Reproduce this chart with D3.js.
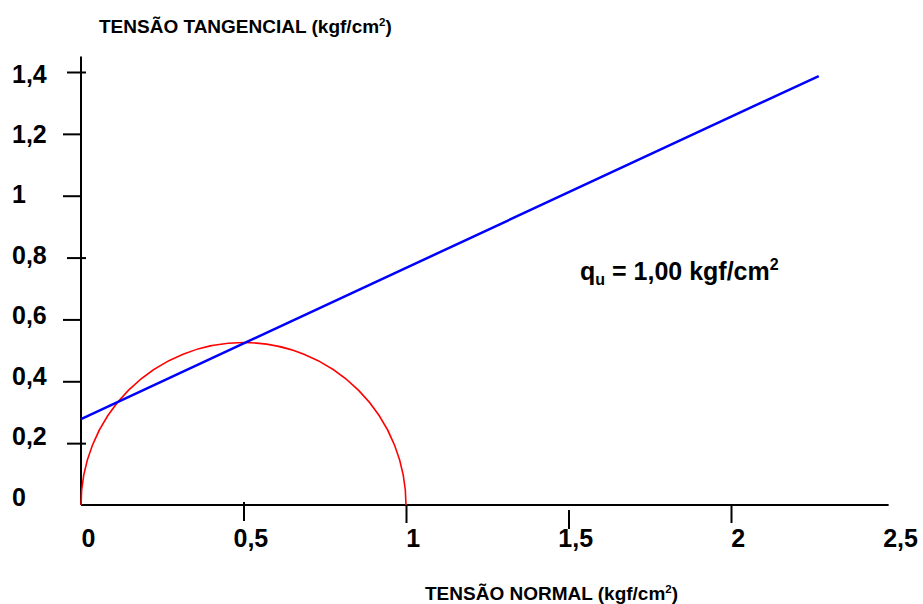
<!DOCTYPE html>
<html>
<head>
<meta charset="utf-8">
<script src="https://cdn.jsdelivr.net/npm/d3@7"></script>
<style>
  body { margin: 0; background: #fff; }
  svg text { font-family: "Liberation Sans", Arial, sans-serif; font-weight: bold; fill: #000; }
</style>
</head>
<body>
<svg id="chart" width="923" height="604"></svg>
<script>
// values
const xTicks = [0, 0.5, 1, 1.5, 2, 2.5];
const yTicks = [0, 0.2, 0.4, 0.6, 0.8, 1, 1.2, 1.4];
const qu = 1.00;                       // unconfined strength -> Mohr circle diameter
const envelopeX = [0, 2.27];           // failure envelope (blue)
const envelopeY = [0.278, 1.387];

const svg = d3.select("#chart");

const ptBR = d3.formatLocale({decimal: ",", thousands: ".", grouping: [3], currency: ["R$", ""]});
const fmt = ptBR.format("~g");

// scales for marks and tick marks
const x = d3.scaleLinear().domain([0, 2.5]).range([81, 893.5]);
const y = d3.scaleLinear().domain([0, 1.4]).range([505, 72]);
// the tick labels sit a bit off the tick marks in the original
const xLab = d3.scaleLinear().domain([0, 2.5]).range([88, 900]);
const yLab = d3.scaleLinear().domain([0, 1.4]).range([505, 82]);

// axis lines
svg.append("line")
    .attr("x1", x(0)).attr("x2", x(0))
    .attr("y1", y(0)).attr("y2", y(1.45))
    .attr("stroke", "#000").attr("stroke-width", 2);
svg.append("line")
    .attr("x1", x(0)).attr("x2", x(2.485))
    .attr("y1", y(0)).attr("y2", y(0))
    .attr("stroke", "#000").attr("stroke-width", 2);

// y tick marks
const gyt = svg.append("g")
    .attr("transform", `translate(${x(0)},0)`)
    .call(d3.axisLeft(y).tickValues(yTicks.slice(1)).tickSize(18).tickFormat(""));
gyt.select(".domain").remove();
gyt.selectAll(".tick line").attr("stroke-width", 2)
    .filter(d => d === 1.4 || d === 0.8 || d === 0.2)
    .attr("x1", 5).attr("x2", -14);

// y labels
const gyl = svg.append("g")
    .call(d3.axisLeft(yLab).tickValues(yTicks).tickSize(0).tickFormat(fmt));
gyl.select(".domain").remove();
gyl.selectAll(".tick text")
    .attr("x", 12).attr("dy", 0)
    .attr("text-anchor", "start")
    .style("font-size", "25px");

// x tick marks
const gxt = svg.append("g")
    .attr("transform", `translate(0,${y(0)})`)
    .call(d3.axisBottom(x).tickValues(xTicks.slice(1, 5)).tickSize(18).tickFormat(""));
gxt.select(".domain").remove();
gxt.selectAll(".tick line").attr("stroke-width", 2);
gxt.selectAll(".tick line").filter(d => d === 0.5).attr("y1", -3).attr("y2", 16);
gxt.selectAll(".tick line").filter(d => d === 1.5).attr("y1", 5).attr("y2", 24);

// x labels
const gxl = svg.append("g")
    .call(d3.axisBottom(xLab).tickValues(xTicks).tickSize(0).tickFormat(fmt));
gxl.select(".domain").remove();
gxl.selectAll(".tick text")
    .attr("y", 547).attr("dy", 0)
    .style("font-size", "25px");

// Mohr circle (upper half)
const r = qu / 2;
const arc = d3.path();
arc.arc(x(r), y(0), x(r) - x(0), Math.PI, 2 * Math.PI);
svg.append("path")
    .attr("d", arc.toString())
    .attr("fill", "none")
    .attr("stroke", "#ff0000")
    .attr("stroke-width", 1.6);

// envelope
svg.append("path")
    .datum(d3.zip(envelopeX, envelopeY))
    .attr("d", d3.line().x(d => x(d[0])).y(d => y(d[1])))
    .attr("fill", "none")
    .attr("stroke", "#0000ff")
    .attr("stroke-width", 2.5);

// axis titles
const t1 = svg.append("text").attr("x", 99).attr("y", 33).style("font-size", "19px");
t1.append("tspan").text("TENSÃO TANGENCIAL (kgf/cm");
t1.append("tspan").text("2").style("font-size", "11.5px").attr("dy", -7);
t1.append("tspan").text(")").attr("dy", 7);

const t2 = svg.append("text").attr("x", 425).attr("y", 600).style("font-size", "19px");
t2.append("tspan").text("TENSÃO NORMAL (kgf/cm");
t2.append("tspan").text("2").style("font-size", "11.5px").attr("dy", -7);
t2.append("tspan").text(")").attr("dy", 7);

// annotation
const t3 = svg.append("text").attr("x", 580).attr("y", 280).style("font-size", "25px");
t3.append("tspan").text("q");
t3.append("tspan").text("u").style("font-size", "16px").attr("dy", 5);
t3.append("tspan").text(" = " + ptBR.format(".2f")(qu) + " kgf/cm").attr("dy", -5);
t3.append("tspan").text("2").style("font-size", "16px").attr("dy", -10);
</script>
</body>
</html>
